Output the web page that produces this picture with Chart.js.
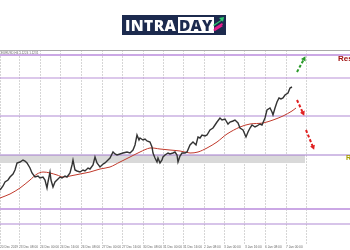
<!DOCTYPE html>
<html><head><meta charset="utf-8">
<script src="https://cdn.jsdelivr.net/npm/chart.js@4"></script>
<style>
html,body{margin:0;padding:0;width:350px;height:250px;overflow:hidden;background:#fff;}
#wrap{position:relative;width:350px;height:250px;overflow:hidden;}
canvas{position:absolute;left:0;top:0;}
.logo{position:absolute;left:122px;top:15px;width:104px;height:20px;background:#1c2a4e;font-family:"Open Sans",Arial,sans-serif;font-weight:800;font-size:15.5px;line-height:20px;}
.logo .a{position:absolute;left:3px;top:0;color:#fff;letter-spacing:0.4px;}
.logo .b{position:absolute;left:56px;top:2px;height:16px;line-height:16px;background:#fff;color:#1c2a4e;padding:0 1px;letter-spacing:0.2px;}
.logo svg{position:absolute;left:90px;top:2px;}
.topline{position:absolute;left:0;top:50px;width:350px;height:1px;background:#a9a9a9;}
.sym{position:absolute;left:1px;top:51px;font:3px Arial,sans-serif;color:#666;white-space:nowrap;}
.res{position:absolute;left:338px;top:54px;font:bold 8px Arial,sans-serif;color:#a01010;white-space:nowrap;}
.sup{position:absolute;left:346px;top:154px;font:bold 7px Arial,sans-serif;color:#a8a000;white-space:nowrap;}
</style></head>
<body><div id="wrap">
<canvas id="c" width="350" height="250"></canvas>
<div class="logo"><span class="a">INTRA</span><span class="b">DAY</span>
<svg width="12" height="16" viewBox="0 0 12 16"><polygon points="1,8 9,3 7,1 12,0 11,5 10,3.5 2,9" fill="#2ecc71"/><polygon points="1,13 9,8 11,9 3,14" fill="#e91e8c"/><polygon points="2,11 10,6 11,7.5 3,12.5" fill="#e91e8c"/></svg></div>
<div class="topline"></div>
<div class="sym">EURUSD,H4 1.1224 1.1231</div>
<div class="res">Resistance</div>
<div class="sup">Range</div>
</div>
<script>
// ---- data ----
const gridX = [0,19,40,60,81,102,122,143,163,183,204,224,245,265,286,306];
const timeLabels = ['20 Dec 2019','23 Dec 08:00','24 Dec 00:00','24 Dec 16:00','26 Dec 08:00','27 Dec 00:00','27 Dec 16:00','30 Dec 08:00','31 Dec 00:00','31 Dec 16:00','2 Jan 08:00','3 Jan 00:00','3 Jan 16:00','6 Jan 08:00','7 Jan 00:00',''];
const priceX = [0,3,5,8,10,13,15,17,20,23,25,27,30,32,35,38,40,43,45,47,48,50,51,53,55,57,60,62,65,67,70,72,73,75,77,80,83,85,88,90,93,95,97,100,103,105,108,110,113,115,117,120,123,127,130,133,135,137,139,140,143,145,147,150,152,153,155,157,158,160,162,163,165,168,170,173,175,177,178,180,182,185,187,190,193,196,198,200,202,205,207,210,213,215,217,220,222,225,228,230,233,235,238,240,243,246,248,250,252,255,257,260,262,265,267,270,272,273,275,277,279,281,283,285,288,290,292];
const priceV = [60,64,68,70,73,76,80,87,88,90,89,87,82,77,73,74,72,73,70,62,68,78,70,63,68,70,73,72,74,73,77,85,90,80,79,78,80,79,82,81,85,93,87,83,86,87,90,92,98,96,95,96,97,98,97,100,105,115,110,112,110,111,109,108,103,97,92,88,92,87,90,93,95,97,96,97,98,95,88,94,97,97,98,105,108,105,113,112,115,114,115,120,122,125,128,132,130,131,126,128,129,130,127,122,120,113,118,122,125,123,124,126,125,132,140,142,138,135,142,148,152,151,152,155,157,162,163];
const maX = [0,10,20,30,37,43,50,57,63,70,80,90,100,110,120,130,140,150,160,170,180,190,198,207,217,227,240,250,263,273,283,292,296];
const maV = [52,56,62,70,76,78,77,75,73,74,76,78,81,83,88,93,98,102,101,100,99,97,98,102,108,116,123,126,127,130,134,139,142];
const levels = [195,172,134,95,41,26];
const bandX = [0,305];
const bandTop = [95,95];
const bandBottom = 87;
const greenArrowX = [297,304], greenArrowV = [178,191];
const redArrow1X = [297,303], redArrow1V = [150,137];
const redArrow2X = [306,313], redArrow2V = [120,103];

// ---- styles ----
const levelColors = ['#cba8e5','#b992d8','#b08ad3','#a47ccd','#cba8e5','#b08ad3'];
const levelWidths = [2,1.2,1.2,1.2,2,1.2];
const pts = (xs, vs) => xs.map((x,i)=>({x:x,y:vs[i]}));

const datasets = [];
datasets.push({data:pts(bandX,bandTop),borderWidth:0,pointRadius:0,fill:{value:bandBottom},backgroundColor:'#d9d9d9',order:20});
levels.forEach((lv,i)=>datasets.push({data:[{x:0,y:lv},{x:350,y:lv}],borderColor:levelColors[i],borderWidth:levelWidths[i],pointRadius:0,fill:false,order:10}));
datasets.push({data:pts(maX,maV),borderColor:'#c0392b',borderWidth:1,pointRadius:0,tension:0.3,fill:false,order:3});
datasets.push({data:pts(priceX,priceV),borderColor:'#333',borderWidth:1.4,pointRadius:0,tension:0,fill:false,order:2});
function arrow(xs,vs,color,rot){
  return {data:pts(xs,vs),borderColor:color,backgroundColor:color,borderWidth:2,borderDash:[3,2],
    pointRadius:[0,3],pointHoverRadius:0,pointStyle:'triangle',pointRotation:[0,rot],pointBorderWidth:0,fill:false,order:1};
}
datasets.push(arrow(greenArrowX,greenArrowV,'#2a9a2a',28));
datasets.push(arrow(redArrow1X,redArrow1V,'#e02020',155));
datasets.push(arrow(redArrow2X,redArrow2V,'#e02020',158));

new Chart(document.getElementById('c'),{
  type:'line',
  data:{datasets:datasets},
  options:{
    responsive:false,animation:false,events:[],
    layout:{autoPadding:false,padding:{top:50,left:0,right:0,bottom:0}},
    plugins:{legend:{display:false},tooltip:{enabled:false}},
    scales:{
      x:{type:'linear',min:0,max:350,position:'bottom',
        afterBuildTicks:(s)=>{s.ticks=gridX.map(v=>({value:v}));},
        afterFit:(s)=>{s.height=6;s.paddingLeft=0;s.paddingRight=0;},
        grid:{color:'#d6d6d6',lineWidth:1,drawTicks:false},
        border:{display:false,dash:[2,1]},
        ticks:{autoSkip:false,maxRotation:0,minRotation:0,align:'start',padding:1,color:'#666',font:{size:3.2,family:'Arial'},
          callback:(v,i)=>timeLabels[i]}
      },
      y:{display:false,min:6,max:200}
    }
  }
});
</script>
</body></html>
